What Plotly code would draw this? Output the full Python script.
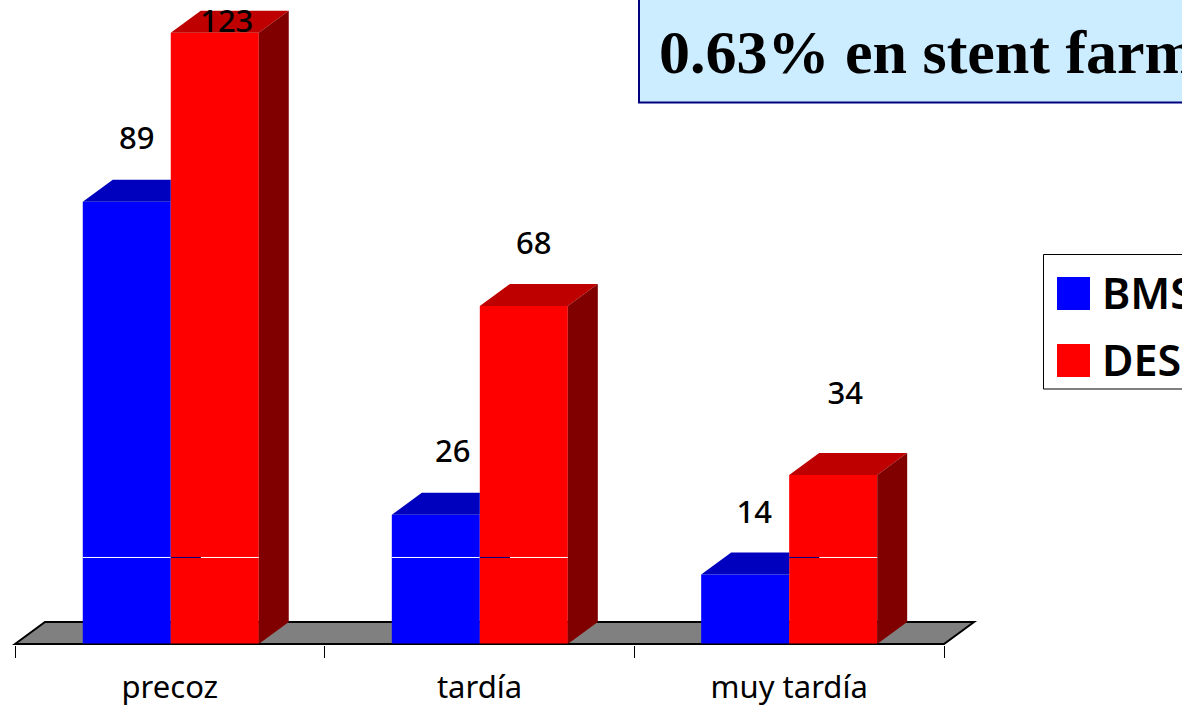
import plotly.graph_objects as go

categories = ["precoz", "tardía", "muy tardía"]
bms_values = [89, 26, 14]
des_values = [123, 68, 34]
series_names = ["BMS", "DES"]
banner_text = "0.63% en stent farm"

# Geometry (axis units)
W, H, BOTTOM = 1182, 705, 60
PH = H - BOTTOM        # plot-area height: paper coordinates span this
PX_X = 309.67          # px per category
PX_Y = 4.97            # px per count
BAR_W = 88 / PX_X
DX = 30 / PX_X         # 3-D depth
DY = 22 / PX_Y
CENTRES = [0.003, 1.001, 2.0]
XMIN = -0.5 - 15 / PX_X
XMAX = XMIN + W / PX_X
YMAX = 129.58
YMIN = YMAX - PH / PX_Y
GRID_VALUE = 17.41

LABEL_FONT = "Noto Sans"
BLUE, RED = "#0000FF", "#FF0000"
BLUE_TOP, RED_TOP = "#0000BF", "#BF0000"
RED_SIDE = "#800000"


def py(p):
    return 1 - p / PH


def polys(items):
    xs, ys = [], []
    for p in items:
        xs += [q[0] for q in p] + [p[0][0], None]
        ys += [q[1] for q in p] + [p[0][1], None]
    return xs, ys


def face(xs, ys, colour):
    return go.Scatter(x=xs, y=ys, mode="lines", fill="toself", fillcolor=colour,
                      line=dict(width=0, color=colour), hoverinfo="skip",
                      showlegend=False)


fig = go.Figure()
fig.add_bar(x=CENTRES, y=bms_values, name=series_names[0], width=BAR_W, offset=-BAR_W,
            marker=dict(color=BLUE, line=dict(width=0)), showlegend=False)
fig.add_bar(x=CENTRES, y=des_values, name=series_names[1], width=BAR_W, offset=0,
            marker=dict(color=RED, line=dict(width=0)), showlegend=False)

# Blue tops stop at the red bar's front face
fig.add_trace(face(*polys([
    [(c - BAR_W, v), (c - BAR_W + DX, v + DY), (c, v + DY), (c, v)]
    for c, v in zip(CENTRES, bms_values)]), BLUE_TOP))
fig.add_trace(face(*polys([
    [(c, v), (c + DX, v + DY), (c + BAR_W + DX, v + DY), (c + BAR_W, v)]
    for c, v in zip(CENTRES, des_values)]), RED_TOP))
fig.add_trace(face(*polys([
    [(c + BAR_W, 0), (c + BAR_W + DX, DY), (c + BAR_W + DX, v + DY), (c + BAR_W, v)]
    for c, v in zip(CENTRES, des_values)]), RED_SIDE))

# Thin gridline remnants crossing the bars
white_x, white_y, navy_x, navy_y = [], [], [], []
for c, b, d in zip(CENTRES, bms_values, des_values):
    if b > GRID_VALUE:
        white_x += [c - BAR_W, c, None]
        white_y += [GRID_VALUE, GRID_VALUE, None]
    if d > GRID_VALUE:
        navy_x += [c, c + DX, None]
        navy_y += [GRID_VALUE, GRID_VALUE, None]
        white_x += [c + DX, c + BAR_W, None]
        white_y += [GRID_VALUE, GRID_VALUE, None]
fig.add_scatter(x=white_x, y=white_y, mode="lines", line=dict(color="#FFFFFF", width=1),
                hoverinfo="skip", showlegend=False)
fig.add_scatter(x=navy_x, y=navy_y, mode="lines", line=dict(color="#000080", width=1),
                hoverinfo="skip", showlegend=False)

# Value labels (offsets in px above each bar)
bms_off = [(10, 60), (17, 61), (9, 59)]
des_off = [(12, 8), (10, 60), (12, 79)]
lx, ly, lt = [], [], []
for c, v, o in zip(CENTRES, bms_values, bms_off):
    lx.append(c - BAR_W / 2 + o[0] / PX_X); ly.append(v + o[1] / PX_Y); lt.append(str(v))
for c, v, o in zip(CENTRES, des_values, des_off):
    lx.append(c + BAR_W / 2 + o[0] / PX_X); ly.append(v + o[1] / PX_Y); lt.append(str(v))
fig.add_scatter(x=lx, y=ly, text=lt, mode="text", textposition="middle center",
                textfont=dict(family=LABEL_FONT, size=31, color="#000000", weight=500),
                hoverinfo="skip", showlegend=False)

shapes = [
    # Floor of the 3-D chart
    dict(type="path", xref="x", yref="y", layer="below",
         path=f"M {-0.5} 0 L {-0.5 + DX} {DY} L {2.5 + DX} {DY} L {2.5} 0 Z",
         fillcolor="#808080", line=dict(color="#000000", width=2)),
    # Baseline in front of the bars
    dict(type="line", xref="x", yref="y", x0=-0.5, x1=2.5, y0=-0.1, y1=-0.1,
         line=dict(color="#000000", width=2)),
    # Banner
    dict(type="rect", xref="paper", yref="paper", x0=639 / W, x1=1.02,
         y0=py(102.5), y1=1.02, fillcolor="#CCECFF", line=dict(color="#000080", width=2)),
    # Legend
    dict(type="rect", xref="paper", yref="paper", x0=1043.5 / W, x1=1.02,
         y0=py(389), y1=py(254.5), fillcolor="#FFFFFF", line=dict(color="#000000", width=1)),
    dict(type="rect", xref="paper", yref="paper", x0=1057 / W, x1=1090 / W,
         y0=py(310), y1=py(277), fillcolor=BLUE, line=dict(width=0)),
    dict(type="rect", xref="paper", yref="paper", x0=1057 / W, x1=1090 / W,
         y0=py(377), y1=py(344), fillcolor=RED, line=dict(width=0)),
]

annotations = [
    dict(xref="paper", yref="paper", x=657 / W, y=py(52), xanchor="left", yanchor="middle",
         text=f"<b>{banner_text}</b>", showarrow=False,
         font=dict(family="Liberation Serif", size=62, color="#000000")),
    dict(xref="paper", yref="paper", x=1100 / W, y=py(292), xanchor="left", yanchor="middle",
         text=series_names[0], showarrow=False,
         font=dict(family=LABEL_FONT, size=43, color="#000000", weight=600)),
    dict(xref="paper", yref="paper", x=1100 / W, y=py(359), xanchor="left", yanchor="middle",
         text=series_names[1], showarrow=False,
         font=dict(family=LABEL_FONT, size=43, color="#000000", weight=600)),
]

fig.update_layout(
    width=W, height=H, margin=dict(l=0, r=0, t=0, b=BOTTOM, autoexpand=False),
    paper_bgcolor="#FFFFFF", plot_bgcolor="rgba(0,0,0,0)", showlegend=False,
    shapes=shapes, annotations=annotations, hovermode=False,
    xaxis=dict(range=[XMIN, XMAX], showgrid=False, zeroline=False, showline=False,
               tickmode="array", tickvals=[0, 1, 2], ticktext=categories,
               ticks="", ticklabelstandoff=21,
               tickfont=dict(family=LABEL_FONT, size=31, color="#000000"),
               minor=dict(tickmode="array", tickvals=[-0.5, 0.5, 1.5, 2.5], ticks="outside",
                          ticklen=12, tickwidth=1, tickcolor="#000000", showgrid=False)),
    yaxis=dict(range=[YMIN, YMAX], visible=False, showgrid=False, zeroline=False),
)
fig.write_html("out.html", post_script="document.body.style.margin='0';",
               config=dict(displayModeBar=False))
